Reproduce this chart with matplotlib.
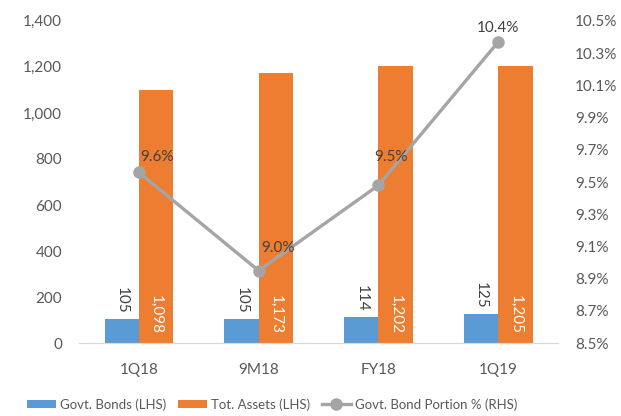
import numpy as np
import matplotlib.pyplot as plt
from matplotlib.ticker import FuncFormatter, MultipleLocator

plt.rcParams['font.family'] = ['Lato', 'DejaVu Sans']

periods = ['1Q18', '9M18', 'FY18', '1Q19']
govt_bonds = [105, 105, 114, 125]
tot_assets = [1098, 1173, 1202, 1205]
bond_portion = [9.56, 8.95, 9.48, 10.37]
portion_labels = ['9.6%', '9.0%', '9.5%', '10.4%']

blue = '#5B9BD5'
orange = '#ED7D31'
grey = '#A5A5A5'
txt = '#595959'
fs = 11

fig = plt.figure(figsize=(6.21, 4.16), dpi=100)
ax = fig.add_axes([0.127, 0.175, 0.772, 0.775])
ax2 = ax.twinx()

x = np.arange(len(periods))
w = 0.285
ax.bar(x - w / 2, govt_bonds, w, color=blue, label='Govt. Bonds (LHS)')
ax.bar(x + w / 2, tot_assets, w, color=orange, label='Tot. Assets (LHS)')

for i in range(len(periods)):
    ax.text(x[i] - w / 2, govt_bonds[i] + 25, str(govt_bonds[i]), rotation=270,
            ha='center', va='bottom', fontsize=fs, color='#404040')
    ax.text(x[i] + w / 2, 40, '{:,}'.format(tot_assets[i]), rotation=270,
            ha='center', va='bottom', fontsize=fs, color='white')

ax.set_xlim(-0.5, 3.5)
ax.set_ylim(0, 1400)
ax.yaxis.set_major_locator(MultipleLocator(200))
ax.yaxis.set_major_formatter(FuncFormatter(lambda v, p: '{:,.0f}'.format(v)))
ax.set_xticks(x)
ax.set_xticklabels(periods)

ax2.plot(x, bond_portion, color=grey, lw=2.4, marker='o', ms=8,
         label='Govt. Bond Portion % (RHS)')
offsets = [(13, 11), (14, 16), (9, 20), (0, 10)]
for i in range(len(periods)):
    ax2.annotate(portion_labels[i], (x[i], bond_portion[i]), xytext=offsets[i],
                 textcoords='offset points', ha='center', va='center',
                 fontsize=fs, color='#404040')
ax2.set_ylim(8.5, 10.5)
ax2.set_yticks(np.arange(8.5, 10.51, 0.2))
ax2.yaxis.set_major_formatter(FuncFormatter(lambda v, p: '{:.1f}%'.format(v)))

for a in (ax, ax2):
    for s in ('top', 'left', 'right'):
        a.spines[s].set_visible(False)
    a.spines['bottom'].set_color('#D9D9D9')
    a.tick_params(length=0, labelsize=fs, labelcolor=txt)
ax.tick_params(axis='y', pad=12)
ax.tick_params(axis='x', pad=14)
ax2.tick_params(axis='y', pad=12)

h1, l1 = ax.get_legend_handles_labels()
h2, l2 = ax2.get_legend_handles_labels()
fig.legend(h1 + h2, l1 + l2, loc='center', bbox_to_anchor=(0.438, 0.028), ncol=3,
           frameon=False, fontsize=9.5, labelcolor=txt, handlelength=2.2,
           handleheight=0.6, handletextpad=0.3, columnspacing=0.9)

fig.savefig('out.png', dpi=100)
